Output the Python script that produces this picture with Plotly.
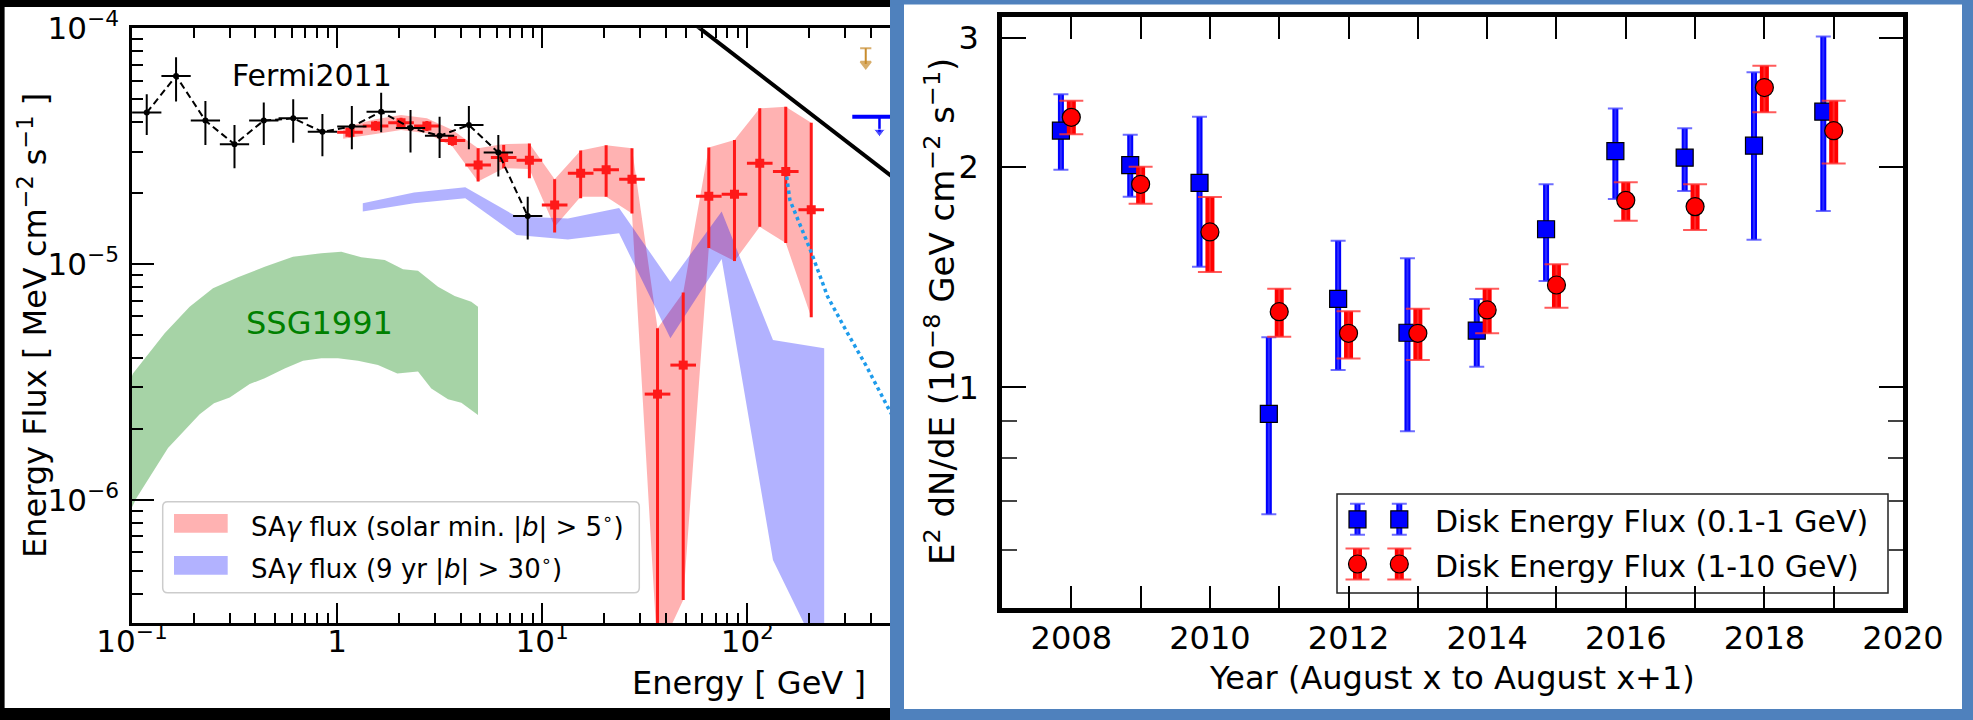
import numpy as np
import plotly.graph_objects as go

W, H = 1973, 720
FONT = "DejaVu Sans"

# ---------------- left panel: energy spectrum ----------------
# Fermi 2011 disk spectrum (GeV, MeV cm^-2 s^-1)
fermi_E = [0.118, 0.164, 0.228, 0.316, 0.439, 0.611, 0.848, 1.18, 1.64, 2.28, 3.16, 4.39, 6.11, 8.5]
fermi_F = [4.39e-5, 6.28e-5, 4.06e-5, 3.22e-5, 4.06e-5, 4.15e-5, 3.64e-5, 3.83e-5, 4.43e-5, 3.78e-5,
           3.50e-5, 3.89e-5, 2.97e-5, 1.60e-5]
fermi_F_hi = [5.25e-5, 7.53e-5, 4.92e-5, 3.89e-5, 4.84e-5, 5.00e-5, 4.33e-5, 4.68e-5, 5.33e-5, 4.50e-5,
              4.22e-5, 4.68e-5, 3.53e-5, 1.93e-5]
fermi_F_lo = [3.53e-5, 4.89e-5, 3.20e-5, 2.55e-5, 3.20e-5, 3.27e-5, 2.87e-5, 3.07e-5, 3.62e-5, 2.97e-5,
              2.82e-5, 3.07e-5, 2.35e-5, 1.27e-5]
fermi_halfbin_dex = 0.0714

# SA-gamma flux, solar minimum, |b| > 5 deg
sa_E = [1.155, 1.54, 2.05, 2.74, 3.65, 4.87, 6.49, 8.66, 11.5, 15.4, 20.5, 27.4, 36.5, 48.7,
        64.9, 86.6, 115, 154, 205]
sa_F = [3.62e-5, 3.85e-5, 3.98e-5, 3.85e-5, 3.34e-5, 2.63e-5, 2.83e-5, 2.76e-5, 1.78e-5, 2.43e-5,
        2.51e-5, 2.29e-5, 2.81e-6, 3.73e-6, 1.94e-5, 1.98e-5, 2.68e-5, 2.47e-5, 1.70e-5]
sa_F_hi = [3.80e-5, 4.04e-5, 4.18e-5, 4.04e-5, 3.51e-5, 3.10e-5, 3.20e-5, 3.25e-5, 2.29e-5, 3.03e-5,
           3.19e-5, 3.10e-5, 5.35e-6, 7.57e-6, 3.12e-5, 3.36e-5, 4.58e-5, 4.65e-5, 3.98e-5]
sa_F_lo = [3.45e-5, 3.67e-5, 3.79e-5, 3.67e-5, 3.18e-5, 2.24e-5, 2.55e-5, 2.31e-5, 1.36e-5, 1.90e-5,
           1.93e-5, 1.64e-5, 2.0e-7, 3.76e-7, 1.17e-5, 1.03e-5, 1.44e-5, 1.23e-5, 5.95e-6]
sa_halfbin_dex = 0.0625

sa_band_E = [1.07, 1.54, 2.05, 2.74, 3.65, 4.87, 6.49, 8.66, 11.5, 15.4, 20.5, 27.4, 36.5, 48.7,
             64.9, 86.6, 115, 154, 205]
sa_band_hi = [3.80e-5, 4.11e-5, 4.29e-5, 4.15e-5, 3.70e-5, 3.10e-5, 3.23e-5, 3.25e-5, 2.29e-5, 3.03e-5,
              3.19e-5, 3.10e-5, 5.35e-6, 7.57e-6, 3.12e-5, 3.36e-5, 4.58e-5, 4.65e-5, 3.98e-5]
sa_band_lo = [3.40e-5, 3.56e-5, 3.70e-5, 3.59e-5, 3.15e-5, 2.24e-5, 2.55e-5, 2.53e-5, 1.44e-5, 1.93e-5,
              1.93e-5, 1.64e-5, 2.2e-7, 3.76e-7, 1.17e-5, 1.03e-5, 1.44e-5, 1.23e-5, 5.95e-6]

# SA-gamma flux, 9 yr, |b| > 30 deg
sa9_E = [1.334, 2.371, 4.217, 7.499, 13.34, 23.71, 42.17, 74.99, 133.4, 237.1]
sa9_hi = [1.81e-5, 2.01e-5, 2.12e-5, 1.59e-5, 1.56e-5, 1.73e-5, 8.42e-6, 1.67e-5, 4.77e-6, 4.40e-6]
sa9_lo = [1.67e-5, 1.81e-5, 1.90e-5, 1.33e-5, 1.27e-5, 1.35e-5, 4.85e-6, 1.05e-5, 5.56e-7, 2.0e-7]

# SSG1991 model envelope
ssg_up_E = [0.1, 0.1011, 0.1443, 0.191, 0.2482, 0.3286, 0.4436, 0.6095, 0.8375, 1.048, 1.312,
            1.707, 2.096, 2.48, 3.104, 3.744, 4.511, 4.864]
ssg_up_F = [3.35e-6, 3.44e-6, 5.09e-6, 6.60e-6, 7.89e-6, 8.79e-6, 9.75e-6, 1.075e-5, 1.111e-5,
            1.129e-5, 1.069e-5, 1.041e-5, 9.51e-6, 9.38e-6, 8.02e-6, 7.32e-6, 6.93e-6, 6.60e-6]
ssg_lo_E = [4.864, 4.033, 3.473, 2.879, 2.48, 1.966, 1.582, 1.264, 1.010, 0.8375, 0.6821, 0.5553,
            0.4436, 0.3749, 0.2996, 0.2511, 0.2138, 0.1498, 0.105, 0.1]
ssg_lo_F = [2.29e-6, 2.58e-6, 2.67e-6, 2.97e-6, 3.50e-6, 3.44e-6, 3.73e-6, 3.89e-6, 3.99e-6,
            3.99e-6, 3.89e-6, 3.61e-6, 3.28e-6, 3.10e-6, 2.72e-6, 2.57e-6, 2.31e-6, 1.66e-6,
            1.016e-6, 9.3e-7]

# model cutoff curve (dotted)
cutoff_E = [155.6, 161.3, 204.4, 246.6, 305.2, 382.1, 486.9, 520]
cutoff_F = [2.35e-5, 1.87e-5, 1.13e-5, 7.27e-6, 5.17e-6, 3.67e-6, 2.45e-6, 2.2e-6]

# straight power-law line
limit_line_E = [52, 600]
limit_line_F = [1.085e-4, 2.10e-5]

# upper limits
ul_orange_E = [378, 378]
ul_orange_F = [8.22e-5, 7.06e-5]
ul_blue_E = 441
ul_blue_E_span = [325, 600]
ul_blue_F = [4.22e-5, 3.64e-5]

# ---------------- right panel: yearly disk flux ----------------
years = [2008, 2009, 2010, 2011, 2012, 2013, 2014, 2015, 2016, 2017, 2018, 2019]
low_val = [2.24, 2.01, 1.90, 0.92, 1.32, 1.187, 1.195, 1.643, 2.10, 2.057, 2.136, 2.377]
low_hi = [2.51, 2.21, 2.34, 1.17, 1.585, 1.50, 1.32, 1.892, 2.40, 2.256, 2.69, 3.01]
low_lo = [1.98, 1.82, 1.46, 0.671, 1.056, 0.871, 1.067, 1.396, 1.807, 1.853, 1.59, 1.74]
high_val = [2.335, 1.892, 1.629, 1.268, 1.185, 1.185, 1.275, 1.379, 1.799, 1.764, 2.564, 2.239]
high_hi = [2.46, 2.0, 1.818, 1.363, 1.27, 1.28, 1.363, 1.472, 1.905, 1.892, 2.746, 2.46]
high_lo = [2.214, 1.78, 1.436, 1.172, 1.095, 1.09, 1.185, 1.284, 1.688, 1.639, 2.372, 2.02]
year_ticks = [2008, 2010, 2012, 2014, 2016, 2018, 2020]
year_minor = [2009, 2011, 2013, 2015, 2017, 2019]
low_offset = -0.15

# ---------------- page geometry (pixels) ----------------
LX0, LX1, LY0, LY1 = 132, 890, 28.3, 623
RX0, RX1, RY0, RY1 = 1002, 1903, 17, 608
L_DEC_X, L_DEC_Y = 205.1, 235.8
LEG_X0, LEG_X1, LEG_Y0, LEG_Y1 = 1337, 1888, 494, 593


def px(x):
    return x / W


def py(y):
    return 1 - y / H


def plus(hi, val):
    return list(np.array(hi) - np.array(val))


def minus(val, lo):
    return list(np.array(val) - np.array(lo))


RED = "rgb(255,25,25)"
HIDDEN = dict(size=1, color="rgba(0,0,0,0)")
fig = go.Figure()

# SSG1991 envelope
fig.add_trace(go.Scatter(x=ssg_up_E + ssg_lo_E, y=ssg_up_F + ssg_lo_F, fill="toself",
                         fillcolor="rgba(0,128,0,0.35)", line=dict(width=0), mode="lines",
                         xaxis="x", yaxis="y"))
# SA bands
fig.add_trace(go.Scatter(x=sa_band_E + sa_band_E[::-1], y=sa_band_hi + sa_band_lo[::-1], fill="toself",
                         fillcolor="rgba(255,0,0,0.3)", line=dict(width=0), mode="lines",
                         xaxis="x", yaxis="y"))
fig.add_trace(go.Scatter(x=sa9_E + sa9_E[::-1], y=sa9_hi + sa9_lo[::-1], fill="toself",
                         fillcolor="rgba(0,0,255,0.3)", line=dict(width=0), mode="lines",
                         xaxis="x", yaxis="y"))

# SA points
sa_arr = np.array(sa_E)
fig.add_trace(go.Scatter(
    x=sa_E, y=sa_F, mode="markers", xaxis="x", yaxis="y",
    marker=dict(symbol="square", size=9, color=RED),
    error_y=dict(type="data", symmetric=False, array=plus(sa_F_hi, sa_F), arrayminus=minus(sa_F, sa_F_lo),
                 color=RED, thickness=3, width=0),
    error_x=dict(type="data", symmetric=False, array=list(sa_arr * (10 ** sa_halfbin_dex - 1)),
                 arrayminus=list(sa_arr * (1 - 10 ** -sa_halfbin_dex)), color=RED, thickness=3, width=0)))

# Fermi 2011 points with dashed connection
fe_arr = np.array(fermi_E)
fig.add_trace(go.Scatter(
    x=fermi_E, y=fermi_F, mode="lines+markers", xaxis="x", yaxis="y",
    line=dict(color="black", width=2, dash="7px,4px"),
    marker=dict(size=6, color="black"),
    error_y=dict(type="data", symmetric=False, array=plus(fermi_F_hi, fermi_F),
                 arrayminus=minus(fermi_F, fermi_F_lo), color="black", thickness=2, width=0),
    error_x=dict(type="data", symmetric=False, array=list(fe_arr * (10 ** fermi_halfbin_dex - 1)),
                 arrayminus=list(fe_arr * (1 - 10 ** -fermi_halfbin_dex)), color="black", thickness=2,
                 width=0)))

# power-law line, cutoff curve, upper limits
fig.add_trace(go.Scatter(x=limit_line_E, y=limit_line_F, mode="lines", line=dict(color="black", width=4),
                         xaxis="x", yaxis="y"))
fig.add_trace(go.Scatter(x=cutoff_E, y=cutoff_F, mode="lines",
                         line=dict(color="rgb(30,155,235)", width=3.5, dash="dot"), xaxis="x", yaxis="y"))
ORANGE = "rgb(200,140,45)"
fig.add_trace(go.Scatter(x=ul_orange_E, y=ul_orange_F, mode="lines+markers", xaxis="x", yaxis="y",
                         line=dict(color=ORANGE, width=2),
                         marker=dict(symbol=["line-ew-open", "triangle-down"], size=[8, 9], color=ORANGE,
                                     line=dict(color=ORANGE, width=2))))
fig.add_trace(go.Scatter(x=ul_blue_E_span, y=[ul_blue_F[0], ul_blue_F[0]], mode="lines",
                         line=dict(color="blue", width=4), xaxis="x", yaxis="y"))
fig.add_trace(go.Scatter(x=[ul_blue_E, ul_blue_E], y=ul_blue_F, mode="lines+markers", xaxis="x", yaxis="y",
                         line=dict(color="blue", width=2.5),
                         marker=dict(symbol="triangle-down", size=[0, 10], color="blue")))


# yearly points: thick bars, thin caps, then markers
def yearly(xs, val, hi, lo, color, cap_color, bar_w, cap_w, symbol, size, xaxis="x2", yaxis="y2",
           const_err=None):
    if const_err is None:
        err = dict(type="data", symmetric=False, array=plus(hi, val), arrayminus=minus(val, lo))
    else:
        err = dict(type="constant", value=const_err)
    fig.add_trace(go.Scatter(x=xs, y=val, mode="markers", xaxis=xaxis, yaxis=yaxis, marker=HIDDEN,
                             error_y=dict(err, color=color, thickness=bar_w, width=0)))
    fig.add_trace(go.Scatter(x=xs, y=val, mode="markers", xaxis=xaxis, yaxis=yaxis, marker=HIDDEN,
                             error_y=dict(err, color=cap_color, thickness=2, width=cap_w)))
    fig.add_trace(go.Scatter(x=xs, y=val, mode="markers", xaxis=xaxis, yaxis=yaxis,
                             marker=dict(symbol=symbol, size=size, color=color,
                                         line=dict(color="black", width=1.2))))


yearly(list(np.array(years) + low_offset), low_val, low_hi, low_lo, "blue", "rgba(60,60,255,0.75)",
       6, 7.5, "square", 17)
yearly(years, high_val, high_hi, high_lo, "red", "rgba(255,50,50,0.8)", 9, 12, "circle", 18)


# legend glyphs for the yearly panel (drawn in a unit box over the legend frame)
def lx(x):
    return (x - LEG_X0) / (LEG_X1 - LEG_X0)


def ly(y):
    return (LEG_Y1 - y) / (LEG_Y1 - LEG_Y0)


leg_err = 15.5 / (LEG_Y1 - LEG_Y0)
yearly([lx(1357.5), lx(1399.3)], [ly(519.3)] * 2, None, None, "blue", "rgba(60,60,255,0.75)",
       6, 7.5, "square", 17, "x3", "y3", const_err=leg_err)
yearly([lx(1357.5), lx(1399.3)], [ly(564)] * 2, None, None, "red", "rgba(255,50,50,0.8)",
       9, 12, "circle", 18, "x3", "y3", const_err=leg_err)

# ---------------- axes ----------------
tickfont = dict(family=FONT, size=31, color="black")
left_minor_x = [v * m for m in (0.1, 1, 10, 100) for v in range(2, 10) if v * m < 500]
left_minor_y = [v * m for m in (1e-7, 1e-6, 1e-5) for v in range(2, 10) if v * m > 3e-7]

fig.update_layout(
    width=W, height=H, margin=dict(l=0, r=0, t=0, b=0, autoexpand=False),
    paper_bgcolor="white", plot_bgcolor="rgba(0,0,0,0)", showlegend=False,
    font=dict(family=FONT, color="black"),
    xaxis=dict(type="log", domain=[px(LX0), px(LX1)], range=[-1, -1 + (LX1 - LX0) / L_DEC_X], anchor="y",
               automargin=False,
               showline=True, linecolor="black", linewidth=2.5, mirror="allticks",
               ticks="inside", ticklen=20, tickwidth=2, tickcolor="black",
               tickvals=[0.1, 1, 10, 100], ticktext=["10<sup>−1</sup>", "1", "10<sup>1</sup>", "10<sup>2</sup>"],
               tickfont=tickfont, ticklabelstandoff=-11, showgrid=False, zeroline=False,
               minor=dict(tickvals=left_minor_x, ticks="inside", ticklen=10, tickwidth=1.5, tickcolor="black",
                          showgrid=False)),
    yaxis=dict(type="log", domain=[py(LY1), py(LY0)], range=[-4 - (LY1 - LY0) / L_DEC_Y, -4], anchor="x",
               automargin=False,
               showline=True, linecolor="black", linewidth=2.5, mirror=False,
               ticks="inside", ticklen=22, tickwidth=2, tickcolor="black",
               tickvals=[1e-6, 1e-5, 1e-4], ticktext=["10<sup>−6</sup>", "10<sup>−5</sup>", "10<sup>−4</sup>"],
               tickfont=tickfont, ticklabelstandoff=4, showgrid=False, zeroline=False,
               minor=dict(tickvals=left_minor_y, ticks="inside", ticklen=11, tickwidth=1.5, tickcolor="black",
                          showgrid=False)),
    xaxis2=dict(domain=[px(RX0), px(RX1)], range=[2007, 2020], anchor="y2", automargin=False,
                showline=True, linecolor="black", linewidth=4.5, mirror="allticks",
                ticks="inside", ticklen=22, tickwidth=2, tickcolor="black",
                tickvals=year_ticks, ticktext=[str(v) for v in year_ticks],
                tickfont=dict(family=FONT, size=32, color="black"), ticklabelstandoff=-2,
                showgrid=False, zeroline=False,
                minor=dict(tickvals=year_minor, ticks="inside", ticklen=22, tickwidth=2, tickcolor="black",
                           showgrid=False)),
    yaxis2=dict(type="log", domain=[py(RY1), py(RY0)], range=[np.log10(0.5), np.log10(3.2)], anchor="x2",
                automargin=False,
                showline=True, linecolor="black", linewidth=4.5, mirror="allticks",
                ticks="inside", ticklen=24, tickwidth=2, tickcolor="black",
                tickvals=[1, 2, 3], ticktext=["1", "2", "3"],
                tickfont=dict(family=FONT, size=32, color="black"), ticklabelstandoff=12,
                showgrid=False, zeroline=False,
                minor=dict(tickvals=[0.6, 0.7, 0.8, 0.9], ticks="inside", ticklen=15, tickwidth=2,
                           tickcolor="#444", showgrid=False)),
    xaxis3=dict(domain=[px(LEG_X0), px(LEG_X1)], range=[0, 1], visible=False, anchor="y3", automargin=False),
    yaxis3=dict(domain=[py(LEG_Y1), py(LEG_Y0)], range=[0, 1], visible=False, anchor="x3", automargin=False),
)

# ---------------- shapes: frames and legend boxes ----------------
shapes = []
BLUE_FRAME = "#4f81bd"


def rect(x0, y0, x1, y1, color, layer="above", line=None):
    return dict(type="rect", xref="paper", yref="paper", x0=px(x0), x1=px(x1), y0=py(y1), y1=py(y0),
                fillcolor=color, layer=layer, line=line or dict(width=0))


shapes.append(rect(0, 0, 890, 7, "black"))
shapes.append(rect(0, 0, 4.6, 720, "black"))
shapes.append(rect(0, 708, 890, 720, "black"))
shapes.append(rect(890, 0, 904, 720, BLUE_FRAME))
shapes.append(rect(1962, 0, 1973, 720, BLUE_FRAME))
shapes.append(rect(890, 0, 1973, 4.6, BLUE_FRAME))
shapes.append(rect(890, 709, 1973, 720, BLUE_FRAME))

# rounded legend frame for the spectrum panel
x0, x1, yt, yb = px(162.7), px(639.3), py(501.7), py(592.7)
rx, ry = 5 / W, 5 / H
path = (f"M {x0 + rx},{yb} L {x1 - rx},{yb} Q {x1},{yb} {x1},{yb + ry} L {x1},{yt - ry} "
        f"Q {x1},{yt} {x1 - rx},{yt} L {x0 + rx},{yt} Q {x0},{yt} {x0},{yt - ry} L {x0},{yb + ry} "
        f"Q {x0},{yb} {x0 + rx},{yb} Z")
shapes.append(dict(type="path", xref="paper", yref="paper", path=path, fillcolor="rgba(255,255,255,0.8)",
                   line=dict(color="#cccccc", width=1.5), layer="below"))
shapes.append(rect(174, 514, 227.7, 532.7, "rgba(255,0,0,0.3)", layer="below"))
shapes.append(rect(174, 556, 227.7, 574.7, "rgba(0,0,255,0.3)", layer="below"))

# legend frame for the yearly panel
shapes.append(dict(type="rect", xref="paper", yref="paper", x0=px(LEG_X0), x1=px(LEG_X1),
                   y0=py(LEG_Y1), y1=py(LEG_Y0), fillcolor="white", line=dict(color="#222", width=1.5),
                   layer="below"))
fig.update_layout(shapes=shapes)


# ---------------- text ----------------
def note(text, x, y, size, xanchor="center", color="black", angle=0):
    fig.add_annotation(text=text, x=px(x), y=py(y), xref="paper", yref="paper", showarrow=False,
                       xanchor=xanchor, yanchor="middle", textangle=angle,
                       font=dict(family=FONT, size=size, color=color))


note("Fermi2011", 230, 76, 30, xanchor="left")
note("SSG1991", 319, 323, 32, color="green")
note("Energy Flux [ MeV cm<sup>−2</sup> s<sup>−1</sup> ]", 33, 326, 32, angle=-90)
note("Energy [ GeV ]", 868, 683, 32, xanchor="right")
note("SA<i>γ</i> flux (solar min. |<i>b</i>| > 5<sup>∘</sup>)", 249, 525, 26, xanchor="left")
note("SA<i>γ</i> flux (9 yr |<i>b</i>| > 30<sup>∘</sup>)", 249, 567, 26, xanchor="left")

note("E<sup>2</sup> dN/dE (10<sup>−8</sup> GeV cm<sup>−2</sup> s<sup>−1</sup>)", 940, 312, 34, angle=-90)
note("Year (August x to August x+1)", 1452, 678, 32)
note("Disk Energy Flux (0.1-1 GeV)", 1433, 521, 30, xanchor="left")
note("Disk Energy Flux (1-10 GeV)", 1433, 566, 30, xanchor="left")

fig.write_html("out.html")
